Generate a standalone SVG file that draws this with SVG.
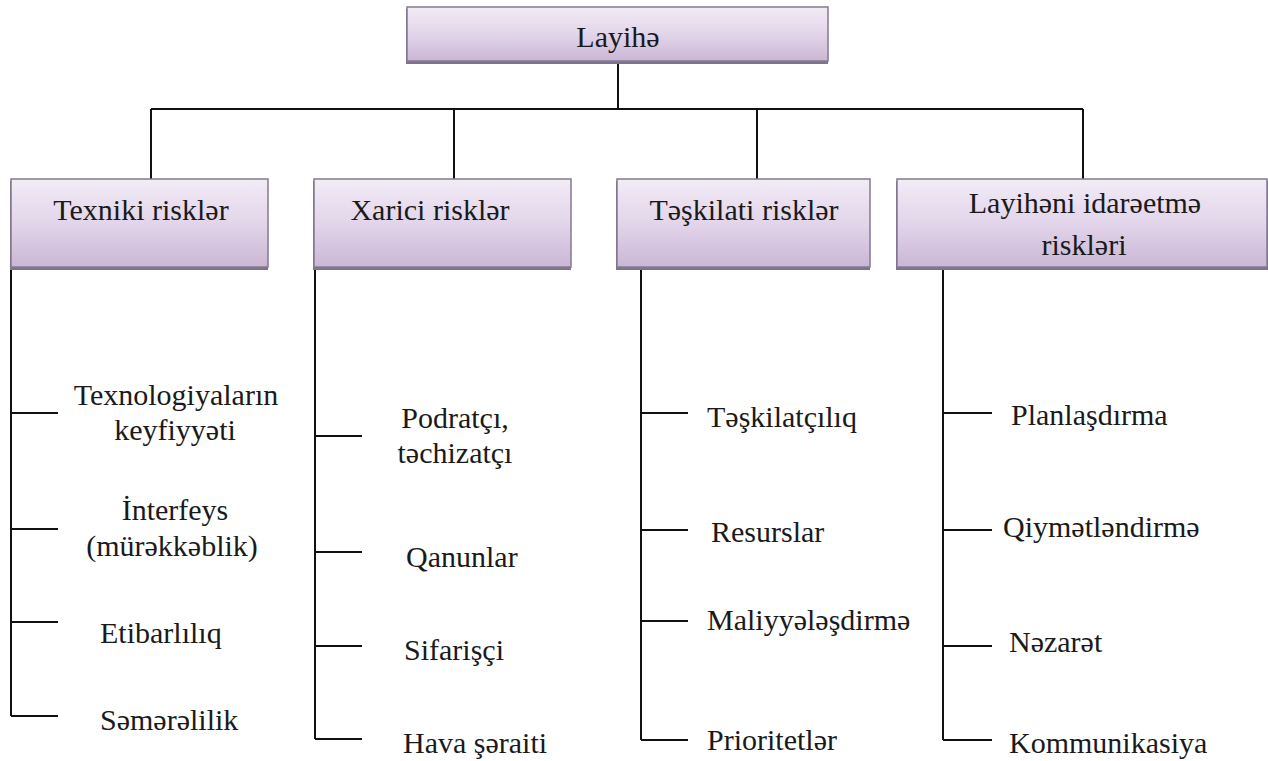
<svg xmlns="http://www.w3.org/2000/svg" width="1268" height="761" viewBox="0 0 1268 761">
<defs>
<linearGradient id="boxGrad" x1="0" y1="0" x2="0" y2="1">
<stop offset="0" stop-color="#f2ecf6"/>
<stop offset="0.5" stop-color="#e2d5ea"/>
<stop offset="1" stop-color="#cbb6d6"/>
</linearGradient>
<style>
.box{fill:url(#boxGrad);stroke:#837a93;stroke-width:1.5}
.shadow{fill:#7d7489}
text{font-family:'Liberation Serif','Times New Roman',serif;font-size:30px;fill:#1a1a1a}
.c{text-anchor:middle}
.ln{stroke:#111;stroke-width:2;fill:none}
</style>
</defs>
<rect width="1268" height="761" fill="#ffffff"/>

<g id="connectors">
<path class="ln" d="M618 63V109M151 109H1083M151 109V179M454 109V179M757 109V179M1083 109V179"/>
<path class="ln" d="M11 268V716M11 413H58M11 529H58M11 622H58M11 716H58"/>
<path class="ln" d="M315 268V739M315 436H362M315 552H362M315 646H362M315 739H362"/>
<path class="ln" d="M641 268V740M641 413H688M641 530H688M641 621H688M641 740H688"/>
<path class="ln" d="M943 268V740M943 413H992M943 530H992M943 646H992M943 740H992"/>
</g>

<g id="node-layihe">
<rect class="shadow" x="406" y="9" width="422" height="55"/>
<rect class="box" x="407" y="7" width="421" height="54"/>
<text class="c" x="618" y="47">Layihə</text>
</g>

<g id="node-texniki">
<rect class="shadow" x="10" y="181" width="258" height="89"/>
<rect class="box" x="11" y="179" width="257" height="88"/>
<text class="c" x="141" y="220">Texniki risklər</text>
</g>

<g id="node-xarici">
<rect class="shadow" x="313" y="181" width="258" height="89"/>
<rect class="box" x="314" y="179" width="257" height="88"/>
<text class="c" x="430" y="220">Xarici risklər</text>
</g>

<g id="node-teskilati">
<rect class="shadow" x="616" y="181" width="254" height="89"/>
<rect class="box" x="617" y="179" width="253" height="88"/>
<text class="c" x="744" y="220">Təşkilati risklər</text>
</g>

<g id="node-idareetme">
<rect class="shadow" x="896" y="181" width="372" height="89"/>
<rect class="box" x="897" y="179" width="370" height="88"/>
<text class="c" x="1085" y="213">Layihəni idarəetmə</text>
<text class="c" x="1084" y="255">riskləri</text>
</g>

<g id="items-texniki">
<text class="c" x="176" y="405">Texnologiyaların</text>
<text class="c" x="175" y="440">keyfiyyəti</text>
<text class="c" x="175" y="520">İnterfeys</text>
<text class="c" x="172" y="556">(mürəkkəblik)</text>
<text x="100" y="643">Etibarlılıq</text>
<text x="100" y="730">Səmərəlilik</text>
</g>

<g id="items-xarici">
<text class="c" x="455" y="428">Podratçı,</text>
<text class="c" x="455" y="463">təchizatçı</text>
<text x="406" y="567">Qanunlar</text>
<text x="404" y="660">Sifarişçi</text>
<text x="403" y="753">Hava şəraiti</text>
</g>

<g id="items-teskilati">
<text x="707" y="427">Təşkilatçılıq</text>
<text x="711" y="542">Resurslar</text>
<text x="707" y="630">Maliyyələşdirmə</text>
<text x="707" y="750">Prioritetlər</text>
</g>

<g id="items-idareetme">
<text x="1011" y="425">Planlaşdırma</text>
<text x="1003" y="537">Qiymətləndirmə</text>
<text x="1009" y="652">Nəzarət</text>
<text x="1009" y="753">Kommunikasiya</text>
</g>
</svg>
